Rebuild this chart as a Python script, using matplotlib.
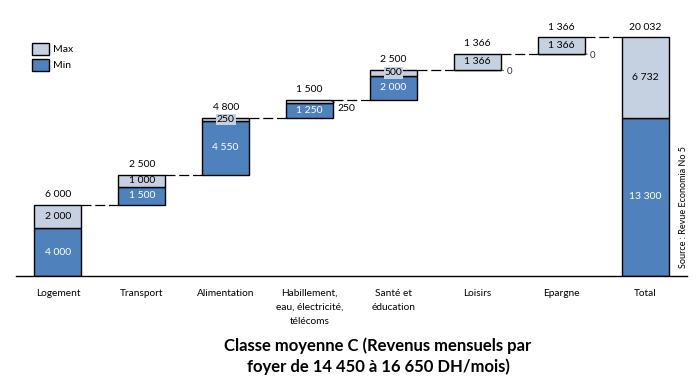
import matplotlib
matplotlib.use("Agg")
import matplotlib.pyplot as plt
from matplotlib.patches import Patch
import numpy as np

plt.rcParams["font.family"] = ["Lato", "DejaVu Sans"]

CATEGORIES = [
    "Logement",
    "Transport",
    "Alimentation",
    "Habillement,\neau, électricité,\ntélécoms",
    "Santé et\néducation",
    "Loisirs",
    "Epargne",
    "Total",
]
MIN_VALS = [4000, 1500, 4550, 1250, 2000, 0, 0, 13300]
MAX_VALS = [2000, 1000, 250, 250, 500, 1366, 1366, 6732]
TITLE = "Classe moyenne C (Revenus mensuels par\nfoyer de 14 450 à 16 650 DH/mois)"
SOURCE = "Source : Revue Economia No 5"

C_MIN = "#4F81BD"
C_MAX = "#C5D0E1"
W = 0.56
# how the "max" label is placed for each bar
MAX_LABEL_POS = ["in", "in", "box", "out", "box", "in", "in", "in"]


def fmt(v):
    return f"{v:,}".replace(",", " ")


def main():
    n = len(CATEGORIES)
    x = np.arange(n)
    tops = np.array(MIN_VALS) + np.array(MAX_VALS)
    # waterfall bottoms, total bar starts at zero
    bottoms = np.concatenate([[0], np.cumsum(tops[:-2]), [0]])

    fig = plt.figure(figsize=(6.97, 3.86), dpi=100)
    ax = fig.add_axes([16 / 697, 1 - 276 / 386, (687 - 16) / 697, 256 / 386])

    ax.bar(x, MIN_VALS, W, bottom=bottoms, color=C_MIN, edgecolor="black", linewidth=1.0, zorder=2)
    ax.bar(x, MAX_VALS, W, bottom=bottoms + MIN_VALS, color=C_MAX, edgecolor="black", linewidth=1.0, zorder=2)

    # dashed connectors
    for i in range(n - 1):
        lvl = bottoms[i] + tops[i]
        ax.plot([x[i] + W / 2, x[i + 1] - W / 2], [lvl, lvl], color="black",
                linewidth=0.9, linestyle=(0, (8, 3)), zorder=1)

    for i in range(n):
        b, mn, mx = bottoms[i], MIN_VALS[i], MAX_VALS[i]
        top = b + mn + mx
        ax.annotate(fmt(mn + mx), (x[i], top), xytext=(0, 4), textcoords="offset points",
                    ha="center", va="bottom", fontsize=7.5, color="black")
        if mn > 0:
            ax.text(x[i], b + mn / 2, fmt(mn), ha="center", va="center", fontsize=7.5, color="white")
        else:
            ax.annotate("0", (x[i] + W / 2, b), xytext=(4, -1), textcoords="offset points",
                        ha="left", va="center", fontsize=7, color="#333333",
                        arrowprops=dict(arrowstyle="-", color="#333333", lw=0.6, shrinkA=0, shrinkB=0))
        pos = MAX_LABEL_POS[i]
        ymid = b + mn + mx / 2
        if pos == "in":
            ax.text(x[i], ymid, fmt(mx), ha="center", va="center", fontsize=7.5, color="black", zorder=3)
        elif pos == "box":
            ax.text(x[i], ymid, fmt(mx), ha="center", va="center", fontsize=7.5, color="black", zorder=3,
                    bbox=dict(boxstyle="square,pad=0.1", facecolor=C_MAX, edgecolor="none"))
        else:
            ax.annotate(fmt(mx), (x[i] + W / 2 - 0.05, top), xytext=(6, -6), textcoords="offset points",
                        ha="left", va="center", fontsize=7.5, color="black",
                        arrowprops=dict(arrowstyle="-", color="black", lw=0.6, ls=":", shrinkA=0, shrinkB=0))

    ax.set_xlim(-0.5, n - 0.5)
    ax.set_ylim(0, 21500)
    ax.set_xticks(x)
    ax.set_xticklabels(CATEGORIES, fontsize=7.3, va="top")
    for lbl in ax.get_xticklabels():
        lbl.set_linespacing(1.75)
    ax.tick_params(axis="x", length=0, pad=9)
    ax.set_yticks([])
    for s in ["top", "left", "right"]:
        ax.spines[s].set_visible(False)
    ax.spines["bottom"].set_linewidth(1.0)

    ax.legend(handles=[Patch(facecolor=C_MAX, edgecolor="black", label="Max"),
                       Patch(facecolor=C_MIN, edgecolor="black", label="Min")],
              loc="upper left", bbox_to_anchor=(27 / 697, 1 - 38 / 386), bbox_transform=fig.transFigure,
              frameon=False, fontsize=7.5, handlelength=1.6, handleheight=1.3, handletextpad=0.4,
              labelspacing=0.45, borderpad=0)

    fig.text(683 / 697, 1 - 268 / 386, SOURCE, rotation=90, ha="center", va="bottom", fontsize=6.5)
    fig.text(378 / 697, 1 - 356 / 386, TITLE, ha="center", va="center", fontsize=12,
             fontweight="bold", linespacing=1.3)

    fig.savefig("out.png", dpi=100)
    plt.close(fig)


main()
